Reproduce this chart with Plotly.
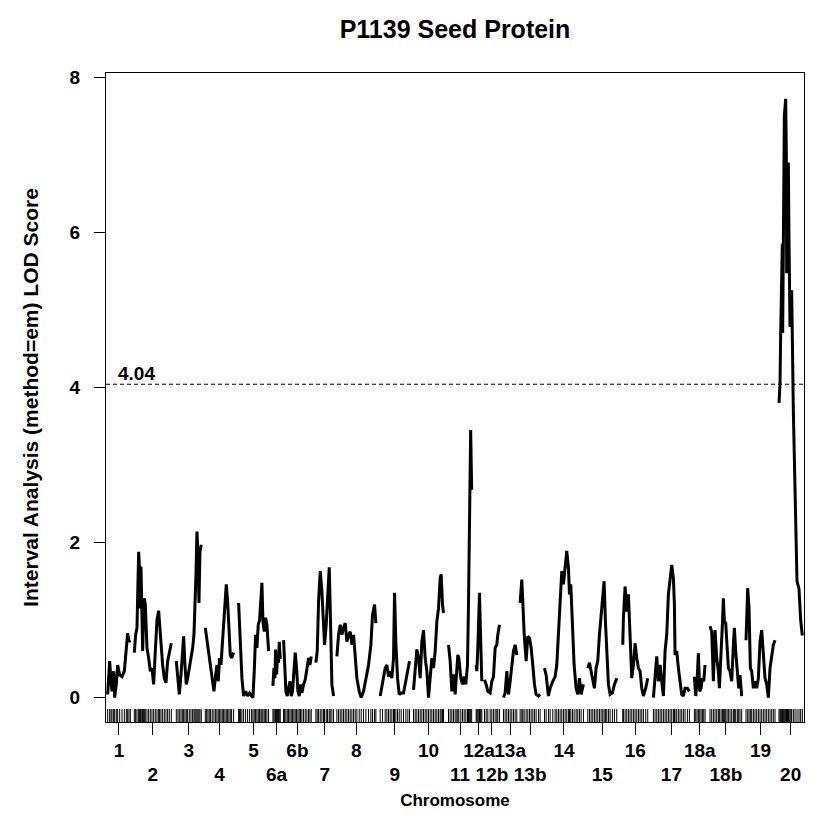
import plotly.graph_objects as go

# ---------------- data ----------------
chromosomes = ["1", "2", "3", "4", "5", "6a", "6b", "7", "8", "9", "10", "11",
               "12a", "12b", "13a", "13b", "14", "15", "16", "17", "18a", "18b", "19", "20"]
chr_start_cm = [0, 160, 412, 586, 786, 992, 1056, 1250, 1376, 1636, 1836, 2046,
                2212, 2262, 2376, 2476, 2622, 2882, 3092, 3276, 3522, 3616, 3832, 4030]

chr1_pos = [0, 12, 20, 26, 36, 42, 52, 60, 72, 86, 100, 112, 120, 128, 136]
chr1_lod = [0.04, 0.47, 0.21, 0.08, 0.34, 0.0, 0.17, 0.42, 0.29, 0.27, 0.34, 0.64, 0.83, 0.72, 0.74]
chr2_pos = [0, 8, 16, 26, 32, 36, 40, 46, 50, 56, 60, 66, 76, 86, 96, 106, 116, 126, 136, 146, 152, 160, 170, 180, 190, 200, 210, 222]
chr2_lod = [0.58, 0.81, 0.9, 1.88, 1.63, 1.15, 1.69, 0.94, 0.6, 1.11, 1.28, 1.2, 0.64, 0.51, 0.34, 0.38, 0.17, 0.6, 1.0, 1.12, 0.94, 0.68, 0.42, 0.25, 0.19, 0.47, 0.6, 0.7]
chr3_pos = [0, 10, 18, 28, 36, 44, 52, 60, 68, 78, 88, 98, 106, 112, 118, 124, 130, 136, 142, 150]
chr3_lod = [0.47, 0.21, 0.04, 0.29, 0.6, 0.79, 0.42, 0.17, 0.25, 0.38, 0.47, 0.64, 0.81, 1.09, 1.58, 2.14, 1.84, 1.22, 1.88, 1.97]
chr4_pos = [0, 8, 16, 24, 32, 42, 52, 62, 70, 78, 86, 94, 102, 110, 118, 126, 134, 142, 150, 158, 170]
chr4_lod = [0.9, 0.77, 0.64, 0.47, 0.34, 0.21, 0.08, 0.29, 0.42, 0.21, 0.51, 0.42, 0.72, 0.98, 1.24, 1.46, 1.24, 0.81, 0.55, 0.51, 0.58]
chr5_pos = [0, 6, 12, 20, 30, 42, 54, 66, 78, 86, 94, 102, 110, 118, 126, 134, 140, 146, 154, 162, 170, 180]
chr5_lod = [1.22, 0.94, 0.55, 0.25, 0.02, 0.08, 0.02, 0.06, 0.02, 0.0, 0.34, 0.81, 0.64, 0.94, 1.0, 1.24, 1.48, 0.98, 0.85, 1.03, 0.94, 0.6]
chr6a_pos = [0, 6, 12, 16, 22, 28, 34, 38, 44]
chr6a_lod = [0.15, 0.38, 0.25, 0.62, 0.3, 0.55, 0.45, 0.72, 0.5]
chr6b_pos = [0, 6, 14, 22, 30, 38, 46, 54, 62, 70, 78, 86, 94, 102, 110, 120, 130, 140, 150, 158, 166]
chr6b_lod = [0.74, 0.42, 0.08, 0.02, 0.12, 0.21, 0.02, 0.08, 0.34, 0.58, 0.38, 0.08, 0.02, 0.17, 0.06, 0.17, 0.23, 0.38, 0.51, 0.42, 0.53]
chr7_pos = [0, 8, 16, 26, 36, 46, 52, 62, 70, 80, 86, 96, 106]
chr7_lod = [0.45, 0.6, 1.24, 1.63, 1.37, 1.03, 0.68, 0.94, 1.37, 1.68, 1.15, 0.17, 0.02]
chr8_pos = [0, 10, 20, 30, 40, 50, 60, 70, 80, 90, 100, 110, 120, 134, 146, 160, 174, 190, 204, 214, 226, 234]
chr8_lod = [0.53, 0.81, 0.94, 0.81, 0.9, 0.96, 0.72, 0.81, 0.85, 0.68, 0.81, 0.51, 0.25, 0.08, 0.0, 0.08, 0.23, 0.42, 0.68, 1.07, 1.2, 0.96]
chr9_pos = [0, 14, 30, 40, 50, 60, 70, 80, 86, 94, 104, 114, 126, 140, 154, 166, 176]
chr9_lod = [0.02, 0.17, 0.38, 0.42, 0.27, 0.34, 0.25, 0.51, 1.35, 0.72, 0.25, 0.04, 0.06, 0.06, 0.21, 0.34, 0.47]
chr10_pos = [0, 10, 20, 30, 40, 50, 60, 70, 80, 90, 100, 110, 120, 130, 140, 150, 160, 166, 174, 180]
chr10_lod = [0.1, 0.34, 0.62, 0.51, 0.25, 0.72, 0.87, 0.51, 0.34, 0.0, 0.29, 0.51, 0.38, 0.6, 0.98, 1.15, 1.54, 1.59, 1.2, 1.09]
chr11_pos = [0, 10, 20, 30, 40, 50, 56, 62, 74, 84, 94, 104, 114, 120, 127, 133, 139]
chr11_lod = [0.68, 0.47, 0.08, 0.3, 0.04, 0.42, 0.55, 0.51, 0.25, 0.17, 0.27, 0.17, 0.42, 1.2, 2.4, 3.45, 2.68]
chr12a_pos = [0, 4, 10, 16, 20, 24, 28, 34]
chr12a_lod = [0.42, 0.34, 0.64, 1.03, 1.35, 0.98, 0.55, 0.21]
chr12b_pos = [0, 10, 20, 34, 44, 54, 64, 74, 80, 90]
chr12b_lod = [0.23, 0.17, 0.08, 0.06, 0.21, 0.27, 0.64, 0.68, 0.81, 0.94]
chr13a_pos = [0, 10, 20, 30, 40, 50, 60, 70, 80]
chr13a_lod = [0.0, 0.06, 0.34, 0.04, 0.21, 0.38, 0.6, 0.68, 0.55]
chr13b_pos = [0, 10, 16, 24, 36, 46, 56, 66, 76, 86, 96, 110, 120]
chr13b_lod = [1.22, 1.52, 1.24, 0.83, 0.47, 0.79, 0.77, 0.64, 0.42, 0.17, 0.04, 0.02, 0.04]
chr14_pos = [0, 10, 24, 34, 50, 64, 74, 84, 94, 104, 114, 124, 134, 144, 150, 158, 168, 178, 190, 200, 210, 220, 234]
chr14_lod = [0.38, 0.29, 0.02, 0.12, 0.21, 0.27, 0.42, 0.81, 1.28, 1.63, 1.46, 1.73, 1.89, 1.67, 1.33, 1.46, 0.94, 0.42, 0.12, 0.04, 0.25, 0.04, 0.17]
chr15_pos = [0, 10, 20, 30, 40, 50, 60, 70, 80, 90, 98, 106, 114, 124, 134, 148, 160, 174]
chr15_lod = [0.38, 0.45, 0.34, 0.21, 0.12, 0.38, 0.47, 0.81, 1.09, 1.28, 1.5, 0.98, 0.51, 0.17, 0.04, 0.06, 0.17, 0.25]
chr16_pos = [0, 4, 14, 24, 34, 44, 54, 64, 74, 84, 94, 104, 114, 124, 138, 150]
chr16_lod = [0.68, 1.03, 1.43, 1.11, 1.33, 0.8, 0.25, 0.42, 0.7, 0.51, 0.38, 0.34, 0.12, 0.02, 0.12, 0.25]
chr17_pos = [0, 10, 20, 30, 40, 50, 60, 70, 80, 90, 100, 110, 120, 126, 130, 140, 150, 160, 170, 180, 190, 204, 216]
chr17_lod = [0.0, 0.25, 0.53, 0.21, 0.42, 0.21, 0.02, 0.6, 0.81, 1.33, 1.5, 1.71, 1.54, 1.2, 0.55, 0.6, 0.38, 0.21, 0.04, 0.02, 0.12, 0.12, 0.08]
chr18a_pos = [0, 8, 16, 24, 32, 40, 48, 56, 64]
chr18a_lod = [0.27, 0.02, 0.21, 0.57, 0.08, 0.12, 0.25, 0.21, 0.42]
chr18b_pos = [0, 10, 20, 30, 40, 50, 56, 66, 74, 80, 86, 94, 102, 110, 120, 130, 140, 146, 154, 164, 172, 180, 190]
chr18b_lod = [0.92, 0.85, 0.21, 0.87, 0.51, 0.34, 0.12, 0.51, 0.94, 1.28, 0.98, 0.96, 0.68, 0.38, 0.34, 0.21, 0.68, 0.9, 0.6, 0.29, 0.12, 0.29, 0.02]
chr19_pos = [0, 10, 18, 26, 34, 44, 54, 64, 74, 84, 94, 104, 114, 124, 134, 144, 154, 164, 174]
chr19_lod = [0.74, 1.41, 1.15, 0.38, 0.34, 0.12, 0.21, 0.12, 0.25, 0.72, 0.87, 0.6, 0.25, 0.17, 0.0, 0.38, 0.55, 0.68, 0.74]
chr20_pos = [0, 6, 10, 16, 20, 22, 26, 32, 40, 44, 46, 51, 56, 60, 66, 72, 76, 86, 96, 108, 120, 130, 140]
chr20_lod = [3.8, 4.05, 4.7, 5.8, 5.85, 4.7, 5.9, 7.5, 7.72, 7.0, 5.47, 6.2, 6.9, 5.9, 4.78, 5.2, 5.25, 3.7, 2.5, 1.5, 1.4, 1.0, 0.8]

threshold = 4.04
y_ticks = [0, 2, 4, 6, 8]
title_text = "P1139 Seed Protein"
x_title = "Chromosome"
y_title = "Interval Analysis (method=em) LOD Score"

positions = [chr1_pos, chr2_pos, chr3_pos, chr4_pos, chr5_pos, chr6a_pos, chr6b_pos, chr7_pos,
             chr8_pos, chr9_pos, chr10_pos, chr11_pos, chr12a_pos, chr12b_pos, chr13a_pos,
             chr13b_pos, chr14_pos, chr15_pos, chr16_pos, chr17_pos, chr18a_pos, chr18b_pos,
             chr19_pos, chr20_pos]
lods = [chr1_lod, chr2_lod, chr3_lod, chr4_lod, chr5_lod, chr6a_lod, chr6b_lod, chr7_lod,
        chr8_lod, chr9_lod, chr10_lod, chr11_lod, chr12a_lod, chr12b_lod, chr13a_lod,
        chr13b_lod, chr14_lod, chr15_lod, chr16_lod, chr17_lod, chr18a_lod, chr18b_lod,
        chr19_lod, chr20_lod]

# ---------------- figure ----------------
FONT = "Liberation Sans, Arial, Helvetica, sans-serif"
x_range = [-10, 4180]
y_range = [-0.315, 8.053]

fig = go.Figure()

centers = []
rug_x = []
for name, start, pos, lod in zip(chromosomes, chr_start_cm, positions, lods):
    xs = [start + p for p in pos]
    centers.append((xs[0] + xs[-1]) / 2)
    fig.add_trace(go.Scatter(x=xs, y=lod, mode="lines",
                             line=dict(color="black", width=3),
                             showlegend=False, hoverinfo="skip", name=name))
    rug_x.extend(xs)

# marker rug at the bottom of the plot region (2% of plot height)
rug_top = y_range[0] + 0.02 * (y_range[1] - y_range[0])
rx, ry = [], []
for v in rug_x:
    rx += [v, v, None]
    ry += [y_range[0], rug_top, None]
fig.add_trace(go.Scatter(x=rx, y=ry, mode="lines", xaxis="x2",
                         line=dict(color="black", width=1),
                         showlegend=False, hoverinfo="skip"))

odd_vals = [c for i, c in enumerate(centers) if i % 2 == 0]
odd_text = [n for i, n in enumerate(chromosomes) if i % 2 == 0]
even_vals = [c for i, c in enumerate(centers) if i % 2 == 1]
even_text = [n for i, n in enumerate(chromosomes) if i % 2 == 1]

tick_font = dict(family=FONT, size=19, color="black", weight="bold")

fig.add_shape(type="line", xref="paper", x0=0, x1=1, yref="y", y0=threshold, y1=threshold,
              line=dict(color="black", width=1, dash="4px,3px"))
fig.add_annotation(text=f"{threshold:.2f}", xref="paper", x=0.015, xanchor="left",
                   yref="y", y=threshold, yanchor="bottom", yshift=-2, showarrow=False,
                   font=dict(family=FONT, size=19, color="black", weight="bold"))

fig.update_layout(
    width=820, height=824,
    margin=dict(l=106, r=16, t=73, b=102),
    paper_bgcolor="white", plot_bgcolor="white",
    title=dict(text=title_text, x=0.5, xref="paper", xanchor="center",
               y=1 - 29 / 824, yref="container", yanchor="middle",
               font=dict(family=FONT, size=25, color="black", weight="bold")),
    xaxis=dict(range=x_range, showgrid=False, zeroline=False, showline=True, mirror=True,
               linecolor="black", linewidth=1, ticks="outside", ticklen=12, tickwidth=1,
               tickcolor="black", tickvals=odd_vals, ticktext=odd_text, tickfont=tick_font,
               tickangle=0, ticklabelstandoff=-1, automargin=False, fixedrange=True),
    xaxis2=dict(range=x_range, overlaying="x", anchor="y", side="bottom",
                showgrid=False, zeroline=False, showline=False, ticks="outside", ticklen=12,
                tickwidth=1, tickcolor="black", tickvals=even_vals, ticktext=even_text,
                tickfont=tick_font, tickangle=0, ticklabelstandoff=23, automargin=False,
                title=dict(text=x_title, standoff=10,
                           font=dict(family=FONT, size=17, color="black", weight="bold"))),
    yaxis=dict(range=y_range, showgrid=False, zeroline=False, showline=True, mirror=True,
               linecolor="black", linewidth=1, ticks="outside", ticklen=11, tickwidth=1,
               tickcolor="black", tickvals=y_ticks, ticktext=[str(t) for t in y_ticks],
               tickfont=tick_font, ticklabelstandoff=10, automargin=False,
               title=dict(text=y_title, standoff=25,
                          font=dict(family=FONT, size=21, color="black", weight="bold"))),
)

fig.write_html("out.html")
